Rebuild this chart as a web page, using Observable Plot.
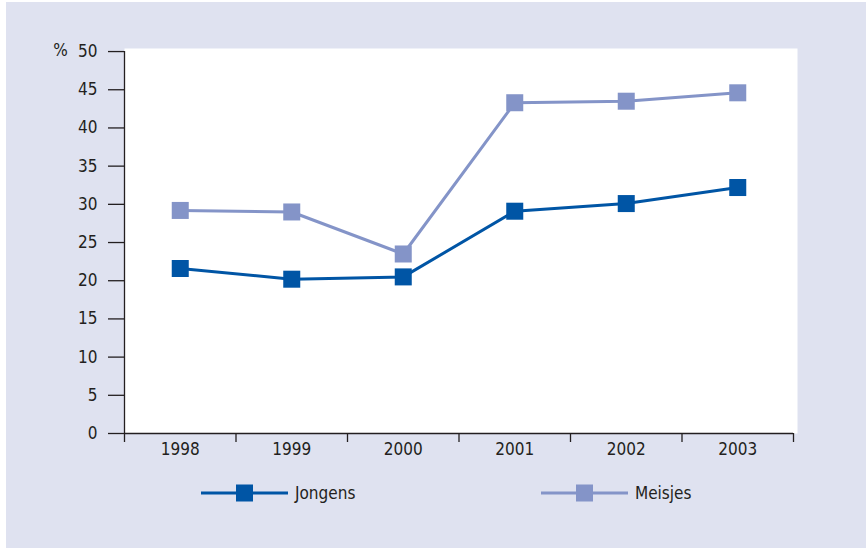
<!DOCTYPE html>
<html>
<head>
<meta charset="utf-8">
<script src="https://cdn.jsdelivr.net/npm/d3@7"></script>
<script src="https://cdn.jsdelivr.net/npm/@observablehq/plot@0.6"></script>
<style>
  html, body { margin: 0; padding: 0; background: #ffffff; }
  #page { position: relative; width: 867px; height: 550px; overflow: hidden; }
  #bg { position: absolute; left: 6px; top: 2px; width: 860px; height: 546px; background: #dfe2f0; }
  #chart { position: absolute; left: 0; top: 0; }
  .leg { position: absolute; display: flex; align-items: center; font-family: "Liberation Sans Narrow", "DejaVu Sans Condensed", "Roboto Condensed", sans-serif; font-size: 17px; color: #231f20; }
  .leg svg { margin-right: 7px; }
</style>
</head>
<body>
<div id="page">
  <div id="bg"></div>
  <div id="chart"></div>
  <div id="legend"></div>
</div>
<script>
const years = [1998, 1999, 2000, 2001, 2002, 2003];
const jongens = [21.6, 20.2, 20.5, 29.1, 30.1, 32.2];
const meisjes = [29.2, 29.0, 23.5, 43.3, 43.5, 44.6];
const seriesNames = ["Jongens", "Meisjes"];
const seriesColors = ["#0055a5", "#8494c8"];
const yTicks = [0, 5, 10, 15, 20, 25, 30, 35, 40, 45, 50];
const xBoundaries = [1997.5, 1998.5, 1999.5, 2000.5, 2001.5, 2002.5, 2003.5];

const data = [];
years.forEach((yr, i) => {
  data.push({year: yr, value: jongens[i], series: "Jongens"});
});
years.forEach((yr, i) => {
  data.push({year: yr, value: meisjes[i], series: "Meisjes"});
});

const font = '"Liberation Sans Narrow", "DejaVu Sans Condensed", sans-serif';
const ink = "#231f20";

const chart = Plot.plot({
  width: 867,
  height: 470,
  marginLeft: 124,
  marginRight: 70,
  marginTop: 48,
  marginBottom: 37,
  style: {background: "transparent", fontFamily: font, fontSize: "17px", color: ink, overflow: "visible"},
  x: {type: "linear", domain: [1997.5, 2003.5], range: [124, 793], axis: null},
  y: {domain: [0, 50.4], axis: null},
  color: {domain: seriesNames, range: seriesColors},
  marks: [
    Plot.frame({fill: "white", stroke: null}),
    Plot.ruleX([xBoundaries[0]], {y1: 0, y2: 50, stroke: ink, strokeWidth: 1.3}),
    Plot.ruleY([0], {x1: xBoundaries[0], x2: xBoundaries[xBoundaries.length - 1], stroke: ink, strokeWidth: 1.3}),
    Plot.axisY({ticks: yTicks, tickSize: 16, tickPadding: 11, label: null, stroke: ink, strokeWidth: 1.3, fill: ink, fontSize: 17}),
    Plot.axisX({ticks: xBoundaries, tickFormat: () => "", tickSize: 9, label: null, stroke: ink, strokeWidth: 1.3}),
    Plot.axisX({ticks: years, tickFormat: d => String(d), tickSize: 0, tickPadding: 9, label: null, fill: ink, fontSize: 17}),
    Plot.text(["%"], {frameAnchor: "top-left", lineAnchor: "middle", dx: -64, dy: 2, fill: ink, fontSize: 17, textAnchor: "middle"}),
    Plot.line(data, {x: "year", y: "value", z: "series", stroke: "series", strokeWidth: 3}),
    Plot.dot(data, {x: "year", y: "value", fill: "series", symbol: "square", r: 9.6, stroke: null})
  ]
});
document.getElementById("chart").appendChild(chart);

// Legend
const legendLeft = [201, 541];
const legend = document.getElementById("legend");
seriesNames.forEach((name, i) => {
  const item = document.createElement("div");
  item.className = "leg";
  item.style.left = legendLeft[i] + "px";
  item.style.top = "482px";
  item.innerHTML = `<svg width="87" height="22"><line x1="0" x2="87" y1="11" y2="11" stroke="${seriesColors[i]}" stroke-width="3"/><rect x="35" y="2.5" width="17" height="17" fill="${seriesColors[i]}"/></svg><span>${name}</span>`;
  legend.appendChild(item);
});
</script>
</body>
</html>
